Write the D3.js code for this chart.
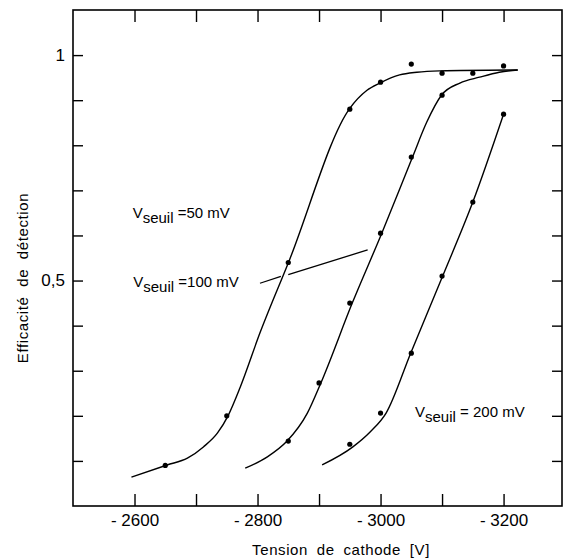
<!DOCTYPE html>
<html>
<head>
<meta charset="utf-8">
<script src="https://cdn.jsdelivr.net/npm/d3@7"></script>
<style>
  body { margin: 0; background: #fff; }
  svg { font-family: "Liberation Sans", Arial, sans-serif; }
</style>
</head>
<body>
<div id="chart"></div>
<script>
// tension de cathode ticks
var tensionTicks = [-2600, -2700, -2800, -2900, -3000, -3100, -3200]
var tensionLabels = [-2600, -2800, -3000, -3200]
var effTicks = [0.1, 0.2, 0.3, 0.4, 0.5, 0.6, 0.7, 0.8, 0.9, 1.0]

// mesures (points)
var seuil50 = [[-2650, 0.09], [-2750, 0.20], [-2850, 0.54], [-2950, 0.88], [-3000, 0.94], [-3050, 0.98], [-3100, 0.96]]
var seuil100 = [[-2850, 0.144], [-2900, 0.273], [-2950, 0.45], [-3000, 0.605], [-3050, 0.774], [-3100, 0.911], [-3150, 0.96], [-3200, 0.976]]
var seuil200 = [[-2950, 0.137], [-3000, 0.206], [-3050, 0.339], [-3100, 0.51], [-3150, 0.674], [-3200, 0.869]]

// courbes tracees a la main
var courbe50 = [[-2595, 0.064], [-2653, 0.091], [-2686, 0.106], [-2712, 0.131], [-2735, 0.162], [-2752, 0.200],
  [-2772, 0.264], [-2804, 0.384], [-2850, 0.539], [-2950, 0.882],
  [-2978, 0.922], [-2999, 0.938], [-3031, 0.956], [-3059, 0.962], [-3096, 0.965], [-3223, 0.967]]
var courbe100 = [[-2780, 0.084], [-2816, 0.109], [-2848, 0.144], [-2881, 0.206], [-2903, 0.273], [-2954, 0.450], [-3002, 0.605],
  [-3052, 0.774], [-3075, 0.851], [-3099, 0.911], [-3129, 0.938], [-3161, 0.951], [-3193, 0.962], [-3223, 0.967]]
var courbe200 = [[-2905, 0.091], [-2955, 0.131], [-2983, 0.164], [-3009, 0.206], [-3049, 0.339], [-3101, 0.510], [-3150, 0.674], [-3200, 0.869]]

var margin = {top: 10, left: 73, right: 3, bottom: 53}
var W = 565, H = 559
var w = W - margin.left - margin.right
var h = H - margin.top - margin.bottom

var svg = d3.select('#chart').append('svg').attr('width', W).attr('height', H)
var g = svg.append('g').attr('transform', 'translate(' + margin.left + ',' + margin.top + ')')

var xScale = d3.scaleLinear().domain([-2500, -3295]).range([0, w])
var yScale = d3.scaleLinear().domain([0, 1.1]).range([h, 0])

// axes
var fmtX = function (d) { return tensionLabels.indexOf(d) >= 0 ? '- ' + Math.abs(d) : '' }
var fmtY = function (d) { return d === 1 ? '1' : (Math.abs(d - 0.5) < 1e-9 ? '0,5' : '') }

g.append('g').attr('transform', 'translate(0,' + h + ')')
  .call(d3.axisBottom(xScale).tickValues(tensionTicks).tickSize(-12).tickPadding(8).tickFormat(fmtX))
g.append('g')
  .call(d3.axisTop(xScale).tickValues(tensionTicks).tickSize(-12).tickFormat(''))
g.append('g')
  .call(d3.axisLeft(yScale).tickValues(effTicks).tickSize(-10).tickPadding(8).tickFormat(fmtY))
g.append('g').attr('transform', 'translate(' + w + ',0)')
  .call(d3.axisRight(yScale).tickValues(effTicks).tickSize(-10).tickFormat(''))

g.selectAll('.domain').remove()
g.selectAll('.tick line').style('stroke', '#000').style('stroke-width', 1.4)
g.selectAll('.tick text').style('font-size', '17px').style('fill', '#000')
  .style('font-family', '"Liberation Sans", Arial, sans-serif')

g.append('rect').attr('x', 0).attr('y', 0).attr('width', w).attr('height', h)
  .style('fill', 'none').style('stroke', '#000').style('stroke-width', 1.6)

// courbes (x en pixels croissant -> monotoneX)
var line = d3.line().x(d => xScale(d[0])).y(d => yScale(d[1])).curve(d3.curveMonotoneX)
g.selectAll('path.courbe').data([courbe50, courbe100, courbe200]).enter().append('path')
  .attr('class', 'courbe').attr('d', line)
  .style('fill', 'none').style('stroke', '#000').style('stroke-width', 1.4)

// points
var pts = seuil50.concat(seuil100, seuil200)
g.selectAll('circle').data(pts).enter().append('circle')
  .attr('r', 2.6).attr('cx', d => xScale(d[0])).attr('cy', d => yScale(d[1]))
  .style('fill', '#000')

// trait de rappel pour 100 mV
var rappel = [[[-2804, 0.494], [-2838, 0.509]], [[-2850, 0.513], [-2979, 0.568]]]
g.selectAll('path.rappel').data(rappel).enter().append('path')
  .attr('class', 'rappel').attr('d', d3.line().x(d => xScale(d[0])).y(d => yScale(d[1])))
  .style('fill', 'none').style('stroke', '#000').style('stroke-width', 1.3)

// etiquettes
var etiquettes = [
  {v: -2597, e: 0.639, txt: ' =50 mV'},
  {v: -2598, e: 0.486, txt: ' =100 mV'},
  {v: -3056, e: 0.197, txt: ' = 200 mV'}
]
var lab = g.selectAll('text.etiq').data(etiquettes).enter().append('text')
  .attr('class', 'etiq')
  .attr('x', d => xScale(d.v)).attr('y', d => yScale(d.e))
  .style('font-size', '15px').style('fill', '#000')
lab.append('tspan').text('V')
lab.append('tspan').attr('dy', 5).text('seuil')
lab.append('tspan').attr('dy', -5).text(d => d.txt)

// titres
svg.append('text')
  .attr('transform', 'translate(28,' + 278 + ') rotate(-90)')
  .attr('text-anchor', 'middle')
  .style('font-size', '15px').style('word-spacing', '5px').style('letter-spacing', '0.6px')
  .text('Efficacité de détection')

svg.append('text')
  .attr('x', 341).attr('y', 555).attr('text-anchor', 'middle')
  .style('font-size', '15px').style('word-spacing', '4px').style('letter-spacing', '0.6px')
  .text('Tension de cathode [V]')
</script>
</body>
</html>
